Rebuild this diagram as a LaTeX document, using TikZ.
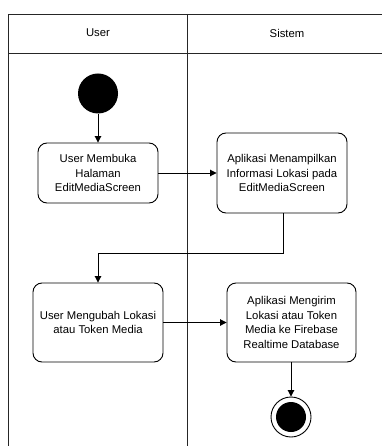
\documentclass[tikz,border=0pt]{standalone}
\usepackage{fontspec}
\setmainfont{Liberation Sans}
\usetikzlibrary{arrows.meta}
\begin{document}
\begin{tikzpicture}[x=1pt,y=-1pt,
  lane/.style={draw=black!85,line width=0.9pt},
  act/.style={draw,line width=0.9pt,rounded corners=9pt,align=center,
    font=\fontsize{11.3}{14.5}\selectfont,inner sep=0pt},
  flow/.style={line width=0.9pt,-{Triangle[length=6.5pt,width=6.5pt]}},
  lbl/.style={font=\fontsize{11.3}{14}\selectfont}]
\useasboundingbox (0,0) rectangle (382,446);
% swimlane frame
\draw[lane] (8,446) -- (8,14) -- (382,14);
\draw[lane] (8,53) -- (382,53);
\draw[lane] (187,14) -- (187,446);
\node[lbl] (hUser) at (98,33) {User};
\node[lbl] (hSistem) at (287,33) {Sistem};
% start node
\node[circle,fill=black,minimum size=40pt,inner sep=0pt] (start) at (98,93.5) {};
% activities
\node[act,minimum width=120pt,minimum height=60pt] (a1) at (98,173)
  {User Membuka\\Halaman\\EditMediaScreen};
\node[act,minimum width=130pt,minimum height=80pt] (a2) at (282,173)
  {Aplikasi Menampilkan\\Informasi Lokasi pada\\EditMediaScreen};
\node[act,minimum width=130pt,minimum height=79pt] (a3) at (98,322.5)
  {User Mengubah Lokasi\\atau Token Media};
\node[act,minimum width=129pt,minimum height=79pt] (a4) at (291.5,322.5)
  {Aplikasi Mengirim\\Lokasi atau Token\\Media ke Firebase\\Realtime Database};
% end node
\node[circle,draw,line width=0.9pt,minimum size=40pt,inner sep=0pt] (stop) at (291,417) {};
\node[circle,fill=black,minimum size=30pt,inner sep=0pt] (stopin) at (stop) {};
% flows
\draw[flow] (start) -- (a1);
\draw[flow] (a1) -- (a2.west |- a1);
\draw[flow] (a2.south -| 283,0) |- (98,253) -- (a3.north -| 98,0);
\draw[flow] (a3) -- (a4.west |- a3);
\draw[flow] (a4.south -| stop) -- (stop);
\end{tikzpicture}
\end{document}
